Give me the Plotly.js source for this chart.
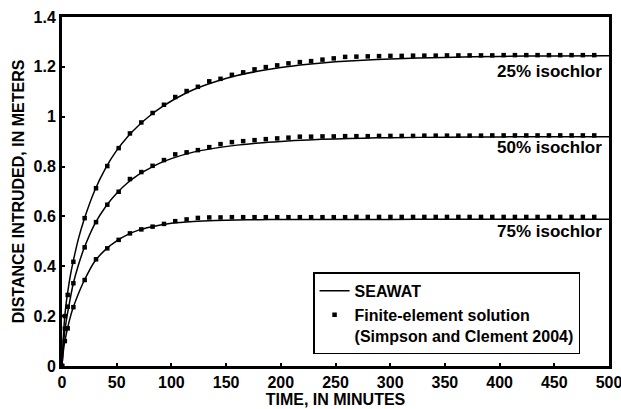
<!DOCTYPE html>
<html>
<head>
<meta charset="utf-8">
<script src="https://cdn.plot.ly/plotly-3.0.1.min.js"></script>
<style>html,body{margin:0;padding:0;background:#fff;}#chart{width:621px;height:409px;}</style>
</head>
<body>
<div id="chart"></div>
<script>
// Finite-element solution (Simpson and Clement 2004) - marker times (minutes)
const feTime = [0, 2.6, 5.2, 10.4, 20.7, 31.1, 41.4, 51.8, 62.1, 72.5, 82.8, 93.2, 103.5, 113.9, 124.2, 134.6, 144.9, 155.3, 165.6, 176.0, 186.3, 196.7, 207.0, 217.4, 227.7, 238.1, 248.4, 258.8, 269.1, 279.5, 289.8, 300.2, 310.5, 320.9, 331.2, 341.6, 351.9, 362.3, 372.6, 383.0, 393.3, 403.7, 414.0, 424.4, 434.7, 445.1, 455.4, 465.8, 476.1, 486.5];
const fe25 = [0, 0.20, 0.285, 0.418, 0.593, 0.713, 0.802, 0.874, 0.933, 0.977, 1.015, 1.048, 1.079, 1.103, 1.120, 1.142, 1.152, 1.168, 1.178, 1.190, 1.199, 1.206, 1.214, 1.219, 1.223, 1.229, 1.234, 1.240, 1.241, 1.242, 1.243, 1.244, 1.244, 1.245, 1.245, 1.245, 1.246, 1.246, 1.246, 1.246, 1.246, 1.247, 1.247, 1.247, 1.247, 1.247, 1.247, 1.247, 1.247, 1.247];
const fe50 = [0, 0.15, 0.238, 0.332, 0.476, 0.577, 0.647, 0.699, 0.750, 0.778, 0.803, 0.826, 0.849, 0.857, 0.866, 0.878, 0.890, 0.898, 0.902, 0.906, 0.910, 0.913, 0.916, 0.920, 0.920, 0.921, 0.921, 0.922, 0.922, 0.922, 0.923, 0.923, 0.923, 0.923, 0.924, 0.924, 0.924, 0.924, 0.924, 0.924, 0.925, 0.925, 0.925, 0.925, 0.925, 0.925, 0.925, 0.925, 0.925, 0.925];
const fe75 = [0, 0.10, 0.151, 0.236, 0.345, 0.428, 0.472, 0.506, 0.532, 0.548, 0.559, 0.570, 0.581, 0.588, 0.594, 0.596, 0.596, 0.597, 0.597, 0.597, 0.597, 0.597, 0.597, 0.597, 0.597, 0.597, 0.597, 0.597, 0.598, 0.598, 0.598, 0.598, 0.598, 0.598, 0.598, 0.598, 0.598, 0.598, 0.598, 0.598, 0.598, 0.598, 0.598, 0.598, 0.598, 0.598, 0.598, 0.598, 0.598, 0.598];

// SEAWAT simulated curves
const swTime = [0, 1, 2, 3.5, 5, 7.5, 10, 15, 20, 30, 40, 50, 60, 70, 80, 90, 100, 120, 140, 160, 180, 200, 225, 250, 275, 300, 350, 400, 450, 500];
const sw25 = [0, 0.10, 0.17, 0.24, 0.29, 0.36, 0.415, 0.51, 0.585, 0.705, 0.795, 0.865, 0.92, 0.965, 1.003, 1.035, 1.063, 1.108, 1.14, 1.165, 1.183, 1.197, 1.21, 1.22, 1.227, 1.232, 1.238, 1.242, 1.244, 1.245];
const sw50 = [0, 0.07, 0.12, 0.17, 0.21, 0.27, 0.325, 0.405, 0.47, 0.57, 0.64, 0.693, 0.735, 0.768, 0.793, 0.815, 0.832, 0.858, 0.874, 0.886, 0.895, 0.901, 0.907, 0.911, 0.914, 0.916, 0.918, 0.919, 0.92, 0.92];
const sw75 = [0, 0.05, 0.085, 0.12, 0.15, 0.195, 0.232, 0.29, 0.34, 0.42, 0.468, 0.502, 0.527, 0.545, 0.557, 0.566, 0.573, 0.58, 0.584, 0.586, 0.587, 0.588, 0.588, 0.588, 0.588, 0.588, 0.589, 0.589, 0.589, 0.589];

const xTicks = [0, 50, 100, 150, 200, 250, 300, 350, 400, 450, 500];
const yTicks = [0, 0.2, 0.4, 0.6, 0.8, 1, 1.2, 1.4];
const curveLabels = ['25% isochlor', '50% isochlor', '75% isochlor'];
const labelLevels = [1.183, 0.876, 0.539];

const FONT = '"Liberation Sans", Arial, Helvetica, sans-serif';

function lineTrace(y, show) {
  return {x: swTime, y: y, type: 'scatter', mode: 'lines', name: 'SEAWAT',
    legendgroup: 'sw', showlegend: show,
    line: {color: '#000', width: 1.5, shape: 'spline', smoothing: 0.6}};
}
function markTrace(y, show) {
  return {x: feTime, y: y, type: 'scatter', mode: 'markers',
    name: 'Finite-element solution<br>(Simpson and Clement 2004)',
    legendgroup: 'fe', showlegend: show, cliponaxis: false,
    marker: {symbol: 'square', size: 4.5, color: '#000'}};
}

const data = [
  lineTrace(sw25, true), lineTrace(sw50, false), lineTrace(sw75, false),
  markTrace(fe25, true), markTrace(fe50, false), markTrace(fe75, false)
];

const annotations = curveLabels.map((t, i) => ({
  text: t, xref: 'paper', yref: 'y', x: 0.99, y: labelLevels[i],
  xanchor: 'right', yanchor: 'middle', showarrow: false,
  font: {family: FONT, size: 17, color: '#000', weight: 'bold'}
}));

const layout = {
  width: 621, height: 409,
  margin: {l: 62, r: 12, t: 17, b: 43, pad: 0},
  paper_bgcolor: '#fff', plot_bgcolor: '#fff',
  font: {family: FONT, size: 16, color: '#000', weight: 'bold'},
  showlegend: true,
  legend: {x: 0.459, y: 0.268, xanchor: 'left', yanchor: 'top',
    bordercolor: '#000', borderwidth: 1.5, bgcolor: '#fff',
    font: {family: FONT, size: 16, color: '#000', weight: 'bold'},
    valign: 'top', tracegroupgap: 0},
  xaxis: {range: [0, 500], tickvals: xTicks, ticktext: xTicks.map(String),
    showgrid: false, zeroline: false, showline: true, linecolor: '#000', linewidth: 3, mirror: true,
    ticks: 'inside', ticklen: 3, tickwidth: 2, tickcolor: '#000', ticklabeloverflow: 'allow',
    tickfont: {family: FONT, size: 16, color: '#000', weight: 'bold'},
    title: {text: 'TIME, IN MINUTES', standoff: 4, font: {family: FONT, size: 16, color: '#000', weight: 'bold'}}},
  yaxis: {range: [0, 1.4], tickvals: yTicks, ticktext: yTicks.map(String),
    showgrid: false, zeroline: false, showline: true, linecolor: '#000', linewidth: 3, mirror: true,
    ticks: 'inside', ticklen: 3, tickwidth: 2, tickcolor: '#000',
    tickfont: {family: FONT, size: 16, color: '#000', weight: 'bold'},
    title: {text: 'DISTANCE INTRUDED, IN METERS', standoff: 5, font: {family: FONT, size: 16, color: '#000', weight: 'bold'}}},
  annotations: annotations
};

Plotly.newPlot('chart', data, layout, {displayModeBar: false, staticPlot: true});
</script>
</body>
</html>
